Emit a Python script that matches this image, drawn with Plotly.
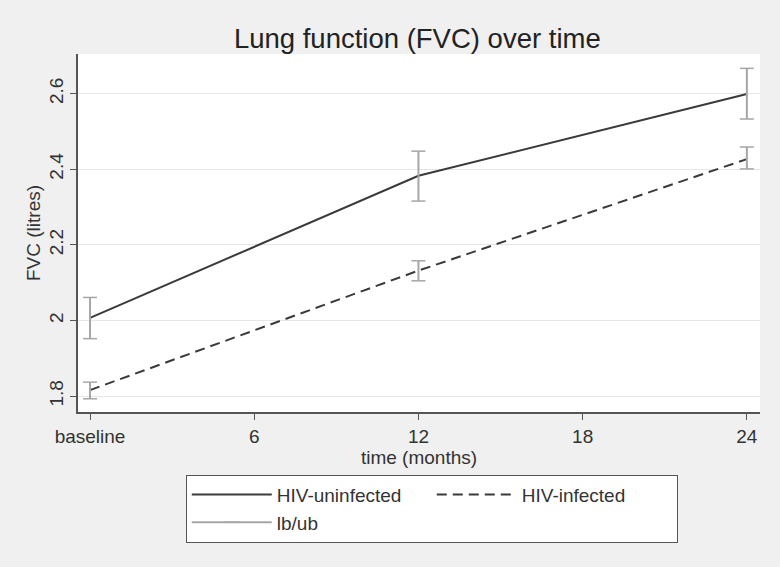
import plotly.graph_objects as go

# months since baseline
months = [0, 12, 24]
x_ticks = [0, 6, 12, 18, 24]
x_ticklabels = ["baseline", "6", "12", "18", "24"]

# mean FVC (litres) and confidence bounds
uninf_mean = [2.007, 2.383, 2.599]
uninf_lb = [1.952, 2.316, 2.533]
uninf_ub = [2.061, 2.448, 2.667]

inf_mean = [1.816, 2.132, 2.427]
inf_lb = [1.793, 2.105, 2.401]
inf_ub = [1.837, 2.158, 2.459]

y_ticks = [1.8, 2.0, 2.2, 2.4, 2.6]
y_ticklabels = ["1.8", "2", "2.2", "2.4", "2.6"]

FONT = "Liberation Sans, Arial, sans-serif"
LINE = "#3a3a3a"
CI = "#a6a6a6"


def ci_segments(xs, lbs, ubs):
    # vertical segments lb -> ub, separated by gaps
    sx, sy = [], []
    for x, lo, hi in zip(xs, lbs, ubs):
        sx += [x, x, None]
        sy += [lo, hi, None]
    return sx, sy


fig = go.Figure()

fig.add_trace(go.Scatter(
    x=months, y=uninf_mean, mode="lines", name="HIV-uninfected",
    line=dict(color=LINE, width=2)))
fig.add_trace(go.Scatter(
    x=months, y=inf_mean, mode="lines", name="HIV-infected",
    line=dict(color=LINE, width=2, dash="10px,6px")))

cx1, cy1 = ci_segments(months, uninf_lb, uninf_ub)
cx2, cy2 = ci_segments(months, inf_lb, inf_ub)
fig.add_trace(go.Scatter(
    x=cx1 + cx2, y=cy1 + cy2, mode="lines+markers", name="lb/ub",
    line=dict(color=CI, width=2),
    marker=dict(symbol="line-ew", size=10, line=dict(color=CI, width=1.5))))

fig.update_layout(
    width=780, height=567,
    paper_bgcolor="#f0f0f0", plot_bgcolor="white",
    margin=dict(l=78, r=20, t=54, b=155),
    font=dict(family=FONT, size=19, color="#333333"),
    title=dict(text="Lung function (FVC) over time", x=0.535, xanchor="center",
               y=0.933, yanchor="middle",
               font=dict(size=27.5, color="#222222")),
    showlegend=True,
    legend=dict(orientation="h", x=0.158, xanchor="left", y=-0.175, yanchor="top",
                bgcolor="white", bordercolor="#555555", borderwidth=1,
                entrywidth=150, itemwidth=80,
                font=dict(size=19, color="#333333"),
                traceorder="normal"),
)

fig.update_xaxes(
    range=[-0.44, 24.48], tickvals=x_ticks, ticktext=x_ticklabels,
    showgrid=False, zeroline=False,
    showline=True, linecolor="#555555", linewidth=1.5,
    ticks="outside", ticklen=6, tickcolor="#555555",
    title=dict(text="time (months)", standoff=0, font=dict(size=19)))

fig.update_yaxes(
    range=[1.758, 2.705], tickvals=y_ticks, ticktext=y_ticklabels,
    tickangle=-90,
    showgrid=True, gridcolor="#e6e6e6", gridwidth=1, zeroline=False,
    showline=True, linecolor="#555555", linewidth=1.5,
    ticks="outside", ticklen=6, tickcolor="#555555",
    title=dict(text="FVC (litres)", standoff=0, font=dict(size=19)))

fig.write_html("out.html", config={"displayModeBar": False},
               post_script="document.body.style.margin='0';")
